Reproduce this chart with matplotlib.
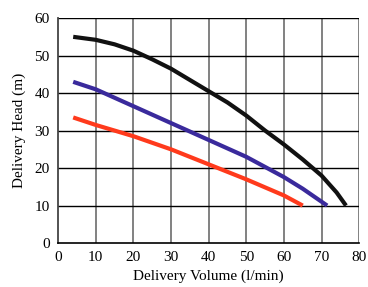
import matplotlib
matplotlib.use('Agg')
import matplotlib.pyplot as plt

plt.rcParams['font.family'] = 'Liberation Serif'

x_black = [4, 10, 15, 20, 25, 30, 35, 40, 45, 50, 55, 60, 65, 70, 74, 76.5]
y_black = [55, 54.2, 53, 51.3, 49, 46.5, 43.5, 40.5, 37.5, 34, 30, 26.3, 22.3, 18, 13.5, 10]
x_blue = [4, 10, 20, 30, 40, 50, 60, 65, 71.5]
y_blue = [43, 41, 36.5, 32, 27.5, 23, 17.6, 14.5, 10]
x_red = [4, 10, 20, 30, 40, 50, 60, 65]
y_red = [33.5, 31.5, 28.5, 25, 21, 17, 12.7, 10]

fig = plt.figure(figsize=(3.68, 2.87), dpi=100)
ax = fig.add_axes([0.158, 0.153, 0.818, 0.784])

for v in range(10, 90, 10):
    ax.axvline(v, color='#777777', lw=1.3, zorder=1)
for h in range(10, 70, 10):
    ax.axhline(h, color='black', lw=1.0, zorder=1)

ax.plot(x_black, y_black, color='#111111', lw=3, solid_capstyle='butt', zorder=3)
ax.plot(x_blue, y_blue, color='#3a2a9c', lw=3, solid_capstyle='butt', zorder=3)
ax.plot(x_red, y_red, color='#ff3a1c', lw=3, solid_capstyle='butt', zorder=3)

ax.set_xlim(0, 80)
ax.set_ylim(0, 60)
ax.set_xticks(range(0, 90, 10))
ax.set_yticks(range(0, 70, 10))
ax.tick_params(length=0, labelsize=11, pad=6)
for s in ['top', 'right']:
    ax.spines[s].set_visible(False)
ax.spines['left'].set_color('#444444')
ax.spines['left'].set_linewidth(1.3)
ax.spines['bottom'].set_linewidth(1.2)

ax.set_xlabel('Delivery Volume (l/min)', fontsize=11, labelpad=4)
ax.set_ylabel('Delivery Head (m)', fontsize=11, labelpad=6)

fig.savefig('out.png', dpi=100)
